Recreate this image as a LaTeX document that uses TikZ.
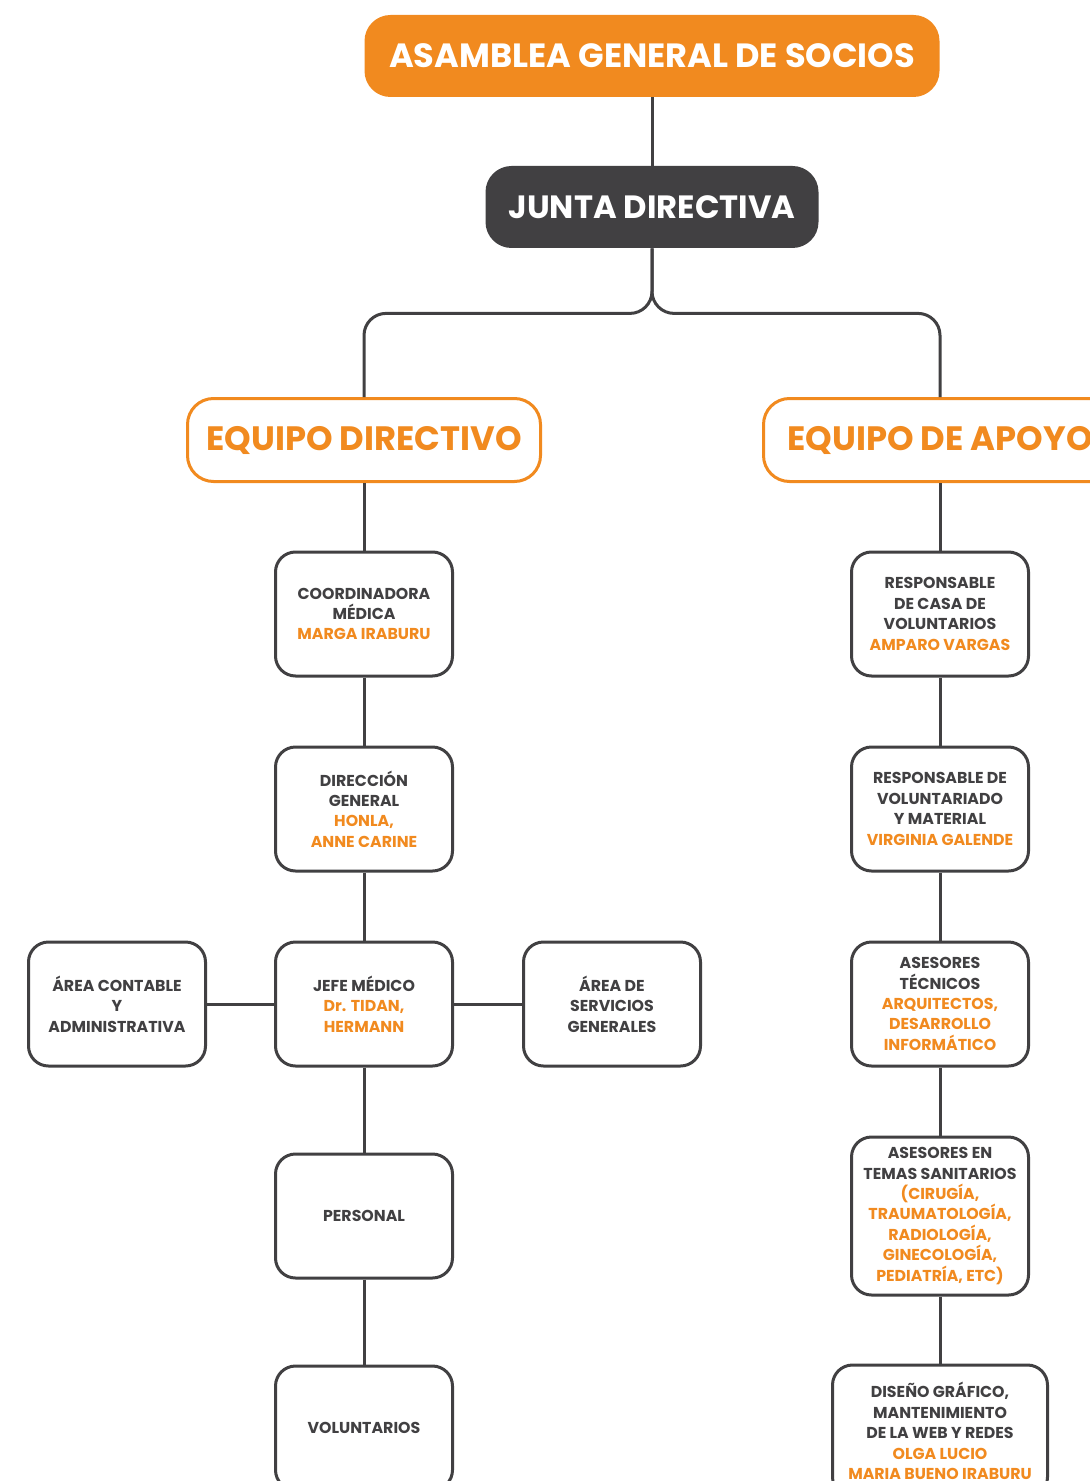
\documentclass[tikz,border=0pt]{standalone}
\usepackage{fontspec}
\setmainfont{Poppins}
\usetikzlibrary{math}
\definecolor{naranja}{HTML}{F18A1F}
\definecolor{oscuro}{HTML}{414042}
\newcommand{\persona}[1]{\textcolor{naranja}{#1}}
\tikzset{every picture/.style={/utils/exec={\bfseries}}}
\tikzset{cabeza/.style={rounded corners=13pt,text=white,minimum height=41pt,font=\fontsize{16.8}{18}\selectfont}}
\tikzset{equipo/.style={draw=naranja,line width=1.5pt,rounded corners=13pt,fill=white,text=naranja,minimum width=176.5pt,minimum height=41.5pt,font=\fontsize{16.9}{18}\selectfont}}
\tikzset{cargo/.style={draw=oscuro,line width=1.5pt,rounded corners=10pt,fill=white,text=oscuro,align=center,minimum width=88.5pt,minimum height=62pt,inner sep=2pt,font=\fontsize{7.9}{10.2}\selectfont}}
\tikzset{enlace/.style={draw=oscuro,line width=1.5pt}}

\begin{document}
\begin{tikzpicture}[x=0.5pt,y=-0.5pt]
    \tikzmath{\cx=652;\lx=364;\rx=940;}
    \useasboundingbox (0,0) rectangle (1090,1481);
    \node [cabeza,fill=naranja,minimum width=287.5pt] (asamblea) at (\cx,56) {ASAMBLEA GENERAL DE SOCIOS};
    \node [cabeza,fill=oscuro,minimum width=166.5pt,font=\fontsize{16.1}{18}\selectfont] (junta) at (\cx,207) {JUNTA DIRECTIVA};
    \node [equipo] (directivo) at (\lx,440) {EQUIPO DIRECTIVO};
    \node [equipo] (apoyo) at (\rx,440) {EQUIPO DE APOYO};
    % equipo directivo
    \node [cargo] (coordinadora) at (\lx,614) {COORDINADORA\\MÉDICA\\\persona{MARGA IRABURU}};
    \node [cargo] (direccion) at (\lx,809) {DIRECCIÓN\\GENERAL\\\persona{HONLA,}\\\persona{ANNE CARINE}};
    \node [cargo] (jefe) at (\lx,1004) {JEFE MÉDICO\\\persona{Dr. TIDAN,}\\\persona{HERMANN}};
    \node [cargo] (contable) at (117,1004) {ÁREA CONTABLE\\Y\\ADMINISTRATIVA};
    \node [cargo] (servicios) at (612,1004) {ÁREA DE\\SERVICIOS\\GENERALES};
    \node [cargo] (personal) at (\lx,1216) {PERSONAL};
    \node [cargo] (voluntarios) at (\lx,1428) {VOLUNTARIOS};
    % equipo de apoyo
    \node [cargo] (casa) at (\rx,614) {RESPONSABLE\\DE CASA DE\\VOLUNTARIOS\\\persona{AMPARO VARGAS}};
    \node [cargo] (voluntariado) at (\rx,809) {RESPONSABLE DE\\VOLUNTARIADO\\Y MATERIAL\\\persona{VIRGINIA GALENDE}};
    \node [cargo] (tecnicos) at (\rx,1004) {ASESORES\\TÉCNICOS\\\persona{ARQUITECTOS,}\\\persona{DESARROLLO}\\\persona{INFORMÁTICO}};
    \node [cargo,minimum height=79pt] (sanitarios) at (\rx,1216) {ASESORES EN\\TEMAS SANITARIOS\\\persona{(CIRUGÍA,}\\\persona{TRAUMATOLOGÍA,}\\\persona{RADIOLOGÍA,}\\\persona{GINECOLOGÍA,}\\\persona{PEDIATRÍA, ETC)}};
    \node [cargo,minimum width=107.5pt,minimum height=66pt] (diseno) at (\rx,1431) {DISEÑO GRÁFICO,\\MANTENIMIENTO\\DE LA WEB Y REDES\\\persona{OLGA LUCIO}\\\persona{MARIA BUENO IRABURU}};
    % enlaces
    \draw [enlace] (asamblea) -- (junta);
    \draw [enlace,rounded corners=11pt] (junta.south) -- ++(0,65) -| (directivo.north);
    \draw [enlace,rounded corners=11pt] (junta.south) -- ++(0,65) -| (apoyo.north);
    \draw [enlace] (directivo) -- (coordinadora) (coordinadora) -- (direccion) (direccion) -- (jefe)
        (jefe) -- (personal) (personal) -- (voluntarios);
    \draw [enlace] (contable) -- (jefe) (jefe) -- (servicios);
    \draw [enlace] (apoyo) -- (casa) (casa) -- (voluntariado) (voluntariado) -- (tecnicos)
        (tecnicos) -- (sanitarios) (sanitarios) -- (diseno);
\end{tikzpicture}
\end{document}
